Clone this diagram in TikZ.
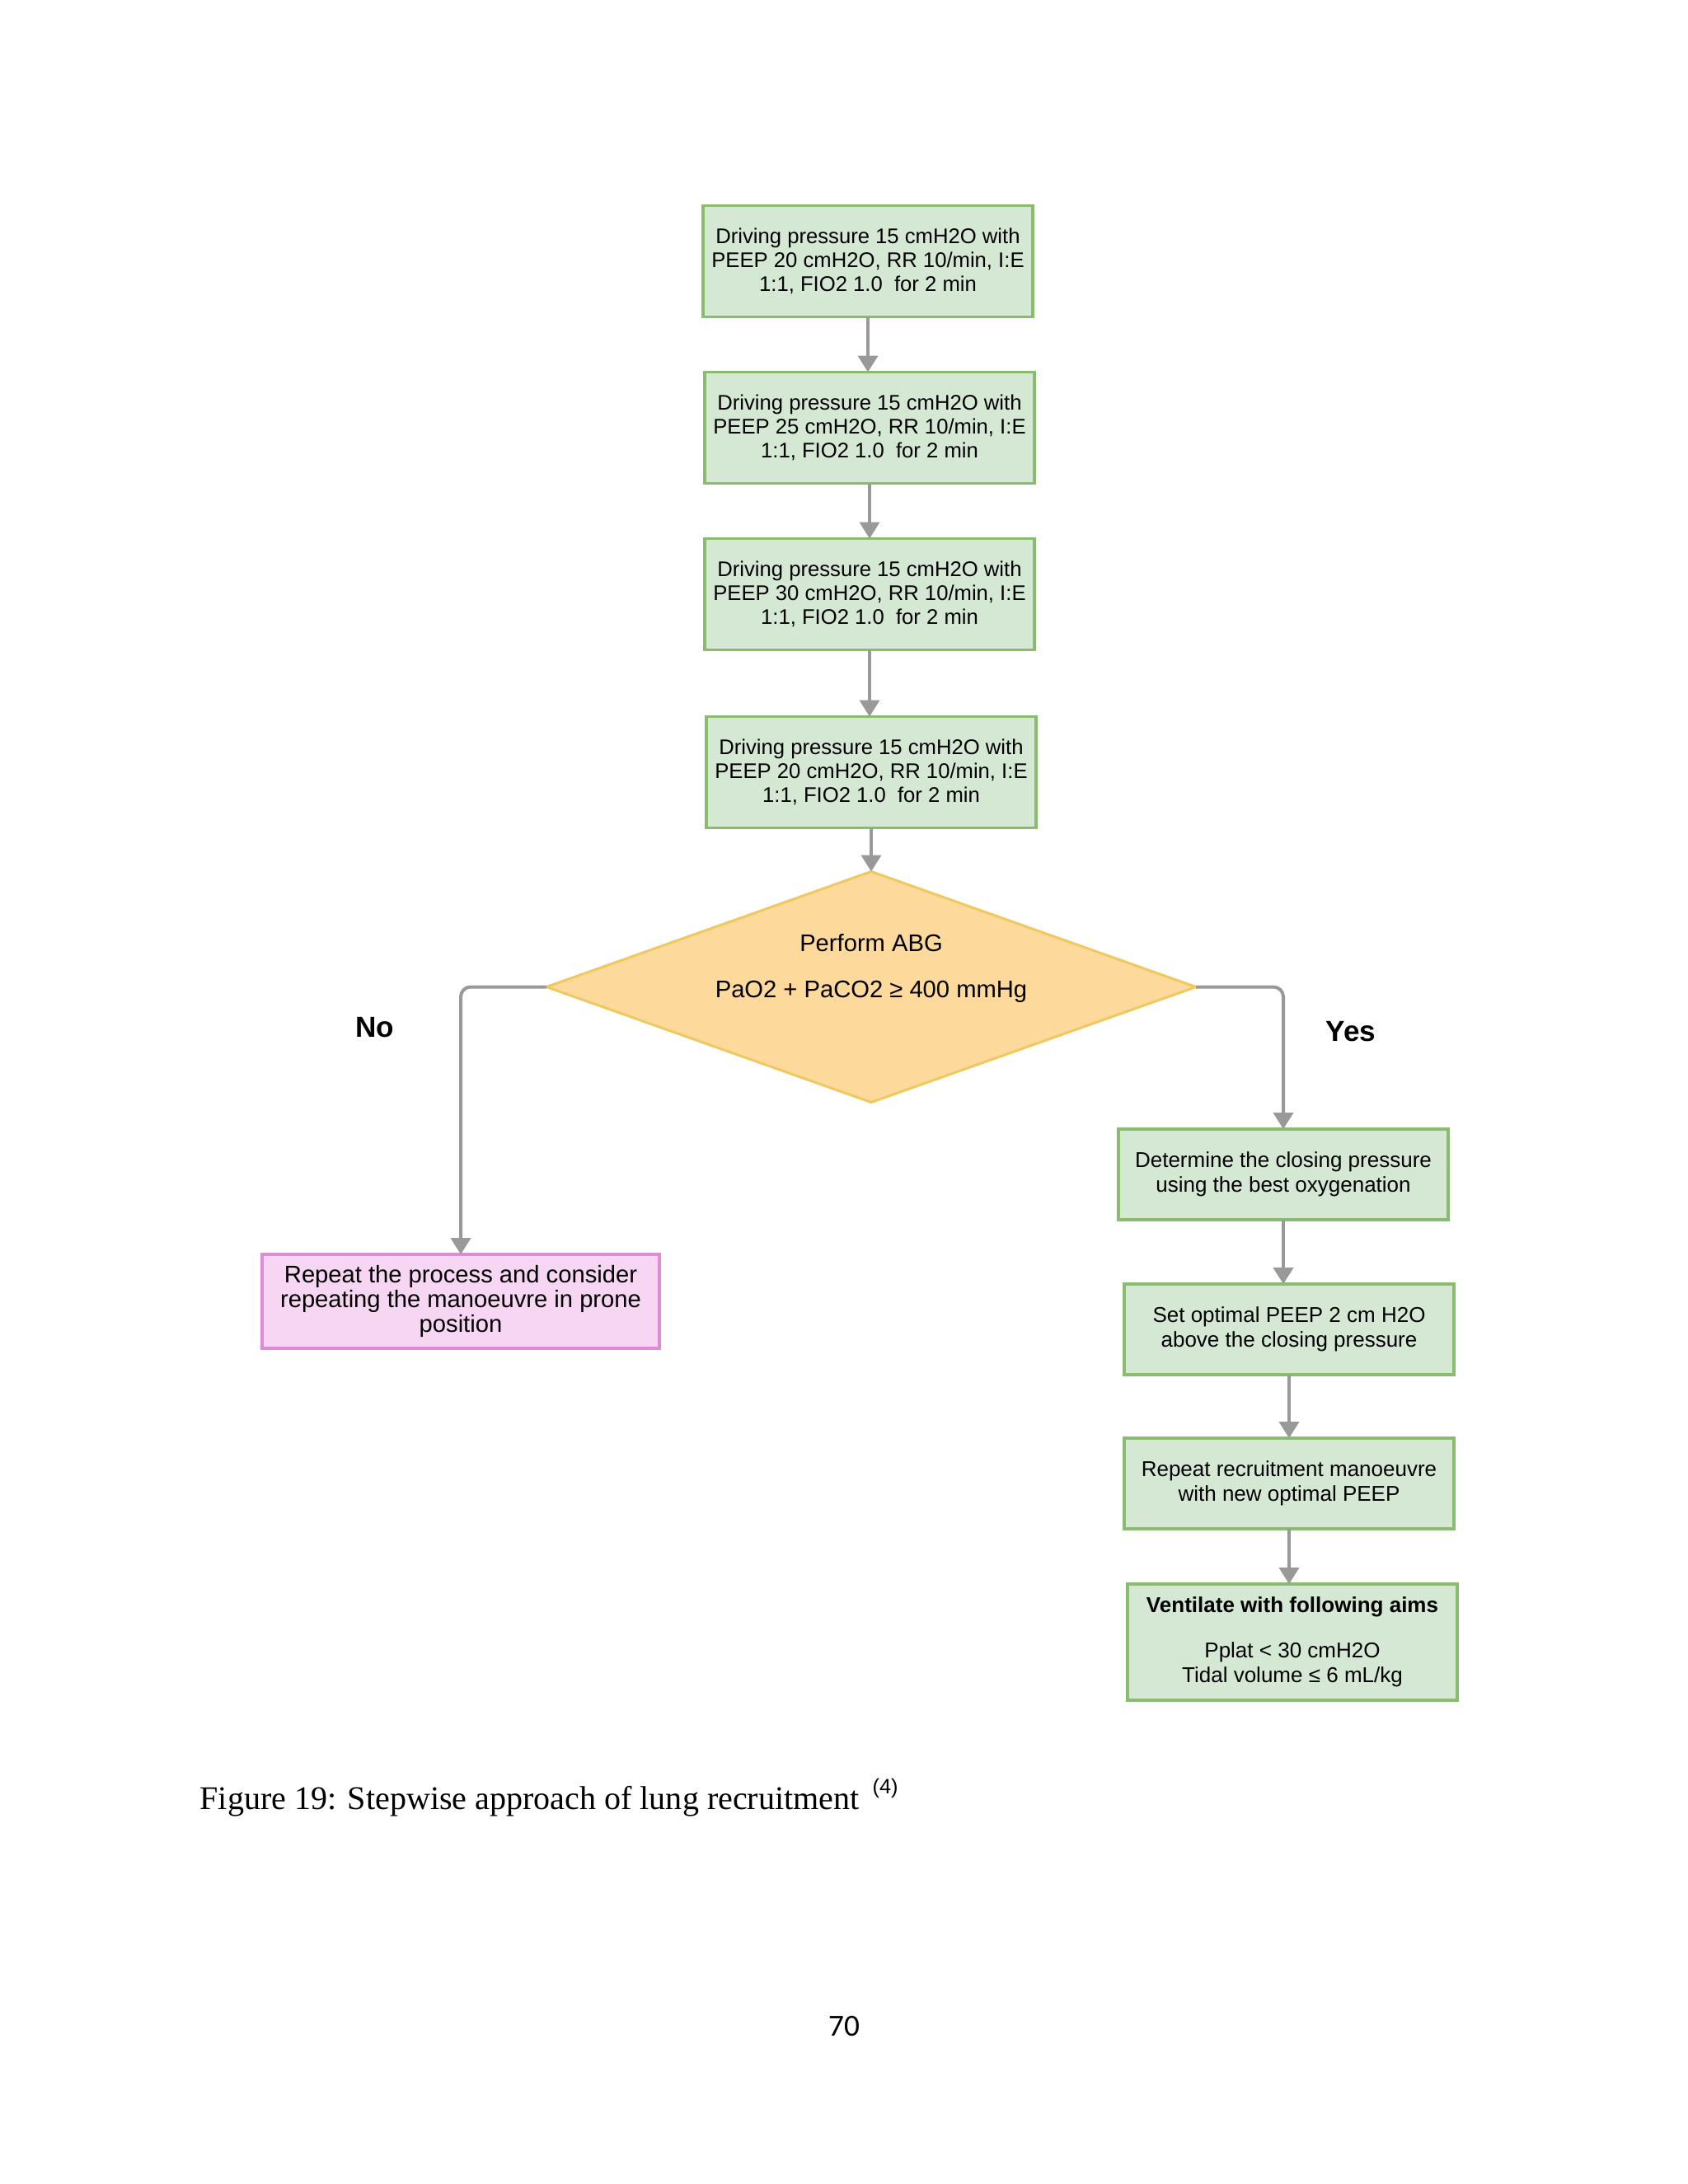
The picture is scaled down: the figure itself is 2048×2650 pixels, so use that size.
\documentclass[tikz,border=0pt]{standalone}
\usepackage{fontspec}
\setmainfont{Liberation Sans}
\newfontfamily\captionfont{Liberation Serif}
\newfontfamily\pagefont{Carlito}
\usetikzlibrary{arrows.meta, positioning, shapes.geometric}
\definecolor{stepfill}{RGB}{213,232,212}
\definecolor{stepline}{RGB}{138,188,112}
\definecolor{repfill}{RGB}{246,214,242}
\definecolor{repline}{RGB}{222,140,216}
\definecolor{decfill}{RGB}{253,217,155}
\definecolor{decline}{RGB}{240,200,96}
\definecolor{arrowgray}{RGB}{153,153,153}

\begin{document}
\begin{tikzpicture}
    [
        x=0.1mm, y=-0.1mm, >={Triangle[width=2.4mm,length=2mm]},
        box/.style={draw=stepline, fill=stepfill, line width=0.35mm, minimum width=40mm, minimum height=13.5mm, inner sep=0pt, outer sep=0pt, align=center, font=\fontsize{7.3}{8.3}\selectfont},
        sbox/.style={box, minimum height=11mm, font=\fontsize{7.4}{8.5}\selectfont},
        rbox/.style={draw=repline, fill=repfill, line width=0.35mm, minimum width=48.2mm, minimum height=11.4mm, inner sep=0pt, outer sep=0pt, align=center, font=\fontsize{8.3}{8.5}\selectfont},
        decision/.style={diamond, draw=decline, fill=decfill, line width=0.3mm, aspect=2.81, minimum width=78.8mm, minimum height=28mm, inner sep=0pt, outer sep=0pt, align=center, text depth=14.5pt, font=\fontsize{8.3}{9.5}\selectfont},
        lbl/.style={font=\bfseries\fontsize{10}{12}\selectfont}
    ]
    \tikzstyle{line} = [draw, ->, color=arrowgray, line width=0.4mm]

    \fill[white] (0,0) rectangle (2048,2650);

    % Recruitment steps
    \node[box] (peep_a) at (1053,317) {Driving pressure 15 cmH2O with\\PEEP 20 cmH2O, RR 10/min, I:E\\1:1, FIO2 1.0\ \ for 2 min};
    \node[box, below=6.7mm of peep_a, xshift=0.2mm] (peep_b) {Driving pressure 15 cmH2O with\\PEEP 25 cmH2O, RR 10/min, I:E\\1:1, FIO2 1.0\ \ for 2 min};
    \node[box, below=6.7mm of peep_b] (peep_c) {Driving pressure 15 cmH2O with\\PEEP 30 cmH2O, RR 10/min, I:E\\1:1, FIO2 1.0\ \ for 2 min};
    \node[box, below=8.1mm of peep_c, xshift=0.2mm] (peep_d) {Driving pressure 15 cmH2O with\\PEEP 20 cmH2O, RR 10/min, I:E\\1:1, FIO2 1.0\ \ for 2 min};
    \path[line] (peep_a) -- (peep_a |- peep_b.north);
    \path[line] (peep_b) -- (peep_c);
    \path[line] (peep_c) -- (peep_c |- peep_d.north);

    % Decision
    \node[decision, below=5.3mm of peep_d] (abg) {Perform ABG\\[6.4pt]PaO2 + PaCO2 ≥ 400 mmHg};
    \path[line] (peep_d) -- (abg);

    % No branch
    \node[rbox] (repeat) at (559,1579) {Repeat the process and consider\\repeating the manoeuvre in prone\\position};
    \path[line, rounded corners=1.2mm] (abg.west) -| (repeat.north);
    \node[lbl] (no) at (455,1247) {No};

    % Yes branch
    \node[sbox] (closing) at (1557,1425) {Determine the closing pressure\\using the best oxygenation};
    \node[sbox, below=7.8mm of closing, xshift=0.7mm] (optimal) {Set optimal PEEP 2 cm H2O\\above the closing pressure};
    \node[sbox, below=7.7mm of optimal] (again) {Repeat recruitment manoeuvre\\with new optimal PEEP};
    \node[sbox, below=6.7mm of again, xshift=0.4mm, minimum height=14.1mm] (aims) {\textbf{Ventilate with following aims}\\[7.1pt]Pplat < 30 cmH2O\\Tidal volume ≤ 6 mL/kg};
    \path[line, rounded corners=1.2mm] (abg.east) -| (closing.north);
    \path[line] (closing) -- (closing |- optimal.north);
    \path[line] (optimal) -- (again);
    \path[line] (again) -- (again |- aims.north);
    \node[lbl] (yes) at (1639,1252) {Yes};

    % Caption and page number
    \node[anchor=base west, inner sep=0pt] (caption) at (242,2195) {{\captionfont\fontsize{11.4}{13}\selectfont Figure 19: Stepwise approach of lung recruitment}\hspace{1.6mm}\raisebox{1.9mm}{\fontsize{7.2}{8}\selectfont (4)}};
    \node[font=\pagefont\fontsize{10.6}{12}\selectfont] (pagenum) at (1024,2459) {70};
\end{tikzpicture}
\end{document}
